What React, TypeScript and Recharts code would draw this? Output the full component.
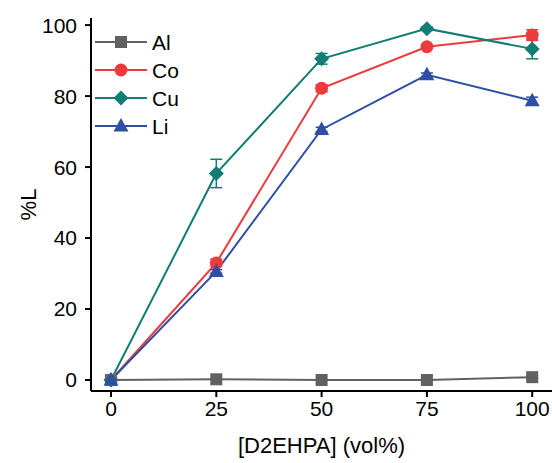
import React from 'react';
import { LineChart, Line, XAxis, YAxis, ErrorBar, Legend } from 'recharts';

const volumes = [0, 25, 50, 75, 100];
const alValues = [0, 0.2, 0, 0, 0.8];
const coValues = [0, 33, 82.2, 93.9, 97.2];
const cuValues = [0, 58.2, 90.5, 99, 93.3];
const liValues = [0, 30.6, 70.6, 86, 78.7];
const alErrors = [0, 0, 0, 0, 0.4];
const coErrors = [0, 1, 1, 0.5, 1.5];
const cuErrors = [0, 4, 1.5, 0.5, 2.8];
const liErrors = [0, 0.5, 0.6, 0.5, 1];
const xTicks = [0, 25, 50, 75, 100];
const yTicks = [0, 20, 40, 60, 80, 100];

const data = volumes.map((v, i) => ({
  vol: v,
  Al: alValues[i],
  Co: coValues[i],
  Cu: cuValues[i],
  Li: liValues[i],
  alErr: alErrors[i],
  coErr: coErrors[i],
  cuErr: cuErrors[i],
  liErr: liErrors[i],
}));

const FONT = '"Liberation Sans", Arial, sans-serif';

type Shape = 'square' | 'circle' | 'diamond' | 'triangle';

const series: { key: string; color: string; shape: Shape; err: string }[] = [
  { key: 'Al', color: '#616161', shape: 'square', err: 'alErr' },
  { key: 'Co', color: '#ee3a3d', shape: 'circle', err: 'coErr' },
  { key: 'Cu', color: '#117d75', shape: 'diamond', err: 'cuErr' },
  { key: 'Li', color: '#2f4fa4', shape: 'triangle', err: 'liErr' },
];

function marker(shape: Shape, cx: number, cy: number, color: string, key?: string) {
  if (shape === 'square') {
    return <rect key={key} x={cx - 6} y={cy - 6} width={12} height={12} fill={color} />;
  }
  if (shape === 'circle') {
    return <circle key={key} cx={cx} cy={cy} r={6.5} fill={color} />;
  }
  if (shape === 'diamond') {
    return (
      <polygon key={key} points={`${cx},${cy - 7.5} ${cx + 7.5},${cy} ${cx},${cy + 7.5} ${cx - 7.5},${cy}`} fill={color} />
    );
  }
  return (
    <polygon key={key} points={`${cx},${cy - 8} ${cx + 7.5},${cy + 5.5} ${cx - 7.5},${cy + 5.5}`} fill={color} />
  );
}

const renderLegend = () => (
  <div>
    {series.map(s => (
      <svg key={s.key} width={90} height={28} style={{ display: 'block' }}>
        <line x1={0} y1={14} x2={52} y2={14} stroke={s.color} strokeWidth={2} />
        {marker(s.shape, 26, 14, s.color)}
        <text x={57} y={21.5} fontSize={21} fontFamily={FONT} fill="#000">{s.key}</text>
      </svg>
    ))}
  </div>
);

export default function App() {
  return (
    <div style={{ position: 'absolute', left: 0, top: 0, background: '#fff' }}>
      <LineChart width={552} height={463} data={data} margin={{ top: 18, right: 0, left: 0, bottom: 0 }}>
        <XAxis
          dataKey="vol"
          type="number"
          domain={[-4.75, 104.7]}
          ticks={xTicks}
          allowDataOverflow
          height={72}
          tickSize={6}
          tickMargin={4}
          stroke="#000"
          strokeWidth={2}
          tick={{ fill: '#000', fontSize: 21, fontFamily: FONT }}
          label={{ value: '[D2EHPA] (vol%)', position: 'insideBottom', offset: 10, fill: '#000', fontSize: 22, fontFamily: FONT }}
        />
        <YAxis
          type="number"
          domain={[-3.1, 102]}
          ticks={yTicks}
          allowDataOverflow
          width={91}
          tickSize={6}
          tickMargin={8}
          stroke="#000"
          strokeWidth={2}
          tick={{ fill: '#000', fontSize: 21, fontFamily: FONT }}
          label={{ value: '%L', angle: -90, position: 'center', dx: -17, fill: '#000', fontSize: 22, fontFamily: FONT }}
        />
        <Legend
          content={renderLegend}
          layout="vertical"
          verticalAlign="middle"
          align="center"
          wrapperStyle={{ left: 95, top: 28, width: 90 }}
        />
        {series.map(s => (
          <Line
            key={s.key}
            dataKey={s.key}
            stroke={s.color}
            strokeWidth={2}
            isAnimationActive={false}
            dot={(p: any) => marker(s.shape, p.cx, p.cy, s.color, `${s.key}-${p.index}`)}
            activeDot={false}
          >
            <ErrorBar dataKey={s.err} direction="y" width={6} stroke={s.color} strokeWidth={1.5} />
          </Line>
        ))}
      </LineChart>
    </div>
  );
}
